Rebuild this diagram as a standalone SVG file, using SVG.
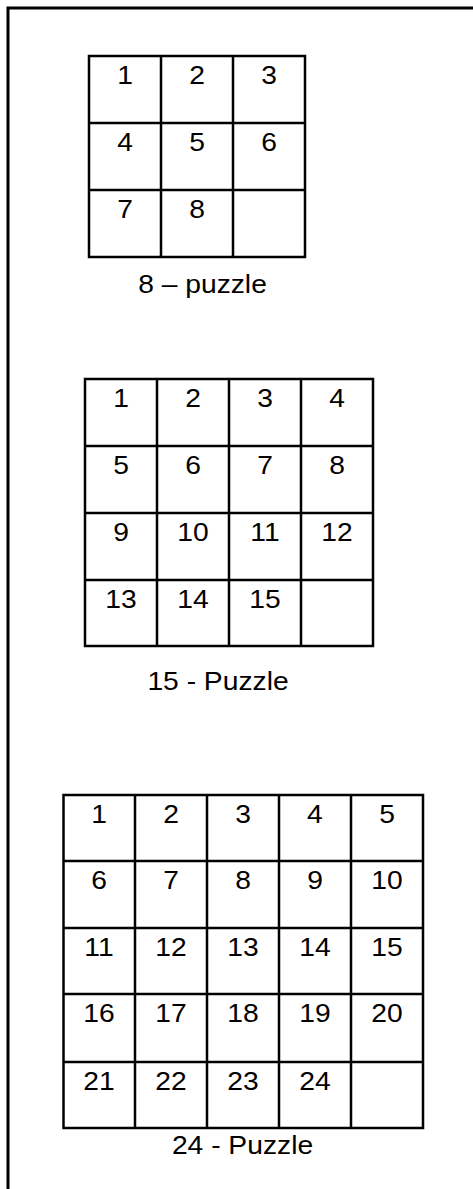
<svg xmlns="http://www.w3.org/2000/svg" width="473" height="1189" viewBox="0 0 473 1189">
<style>
.bg{fill:#fff}
.frame{fill:none;stroke:#000;stroke-width:3}
.grid{fill:none;stroke:#000;stroke-width:2.5}
text{font-family:"Liberation Sans",Arial,sans-serif;font-size:25px;fill:#000;text-anchor:middle;transform-box:fill-box;transform-origin:center;transform:scaleX(1.13)}
</style>
<rect class="bg" x="0" y="0" width="473" height="1189"/>
<path class="frame" d="M8 1189 V8 H473"/>
<g id="puzzle8">
<path class="grid" d="M89 56 H305 V257 H89 Z M161 56 V257 M233 56 V257 M89 123 H305 M89 190 H305"/>
<text x="125" y="84">1</text><text x="197" y="84">2</text><text x="269" y="84">3</text>
<text x="125" y="151">4</text><text x="197" y="151">5</text><text x="269" y="151">6</text>
<text x="125" y="218">7</text><text x="197" y="218">8</text>
<text x="202.5" y="293">8 – puzzle</text>
</g>
<g id="puzzle15">
<path class="grid" d="M85 379 H373 V646 H85 Z M157 379 V646 M229 379 V646 M301 379 V646 M85 446 H373 M85 513 H373 M85 580 H373"/>
<text x="121" y="407">1</text><text x="193" y="407">2</text><text x="265" y="407">3</text><text x="337" y="407">4</text>
<text x="121" y="474">5</text><text x="193" y="474">6</text><text x="265" y="474">7</text><text x="337" y="474">8</text>
<text x="121" y="541">9</text><text x="193" y="541">10</text><text x="265" y="541">11</text><text x="337" y="541">12</text>
<text x="121" y="608">13</text><text x="193" y="608">14</text><text x="265" y="608">15</text>
<text x="218" y="690">15 - Puzzle</text>
</g>
<g id="puzzle24">
<path class="grid" d="M63.5 795 H423 V1128 H63.5 Z M135 795 V1128 M207 795 V1128 M279 795 V1128 M351 795 V1128 M63.5 861 H423 M63.5 928 H423 M63.5 994 H423 M63.5 1062 H423"/>
<text x="99" y="823">1</text><text x="171" y="823">2</text><text x="243" y="823">3</text><text x="315" y="823">4</text><text x="387" y="823">5</text>
<text x="99" y="889">6</text><text x="171" y="889">7</text><text x="243" y="889">8</text><text x="315" y="889">9</text><text x="387" y="889">10</text>
<text x="99" y="956">11</text><text x="171" y="956">12</text><text x="243" y="956">13</text><text x="315" y="956">14</text><text x="387" y="956">15</text>
<text x="99" y="1022">16</text><text x="171" y="1022">17</text><text x="243" y="1022">18</text><text x="315" y="1022">19</text><text x="387" y="1022">20</text>
<text x="99" y="1090">21</text><text x="171" y="1090">22</text><text x="243" y="1090">23</text><text x="315" y="1090">24</text>
<text x="242.5" y="1154">24 - Puzzle</text>
</g>
</svg>
